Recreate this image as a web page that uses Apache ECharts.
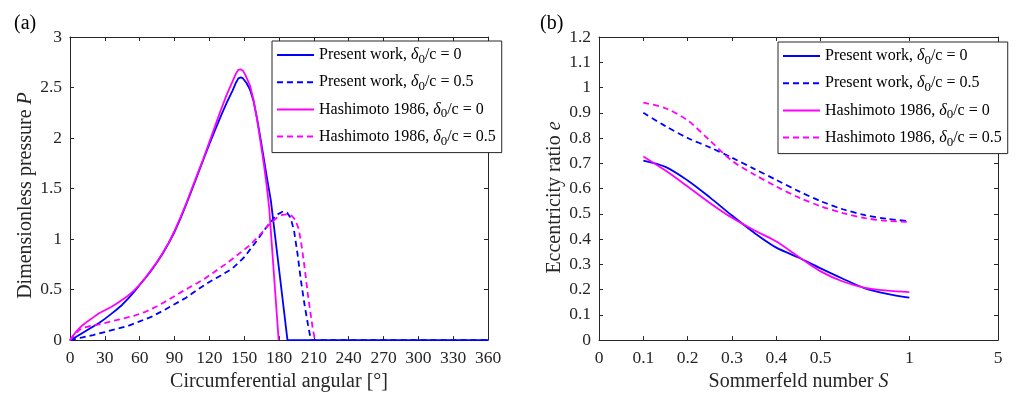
<!DOCTYPE html>
<html><head><meta charset="utf-8">
<script src="https://cdn.jsdelivr.net/npm/echarts@6/dist/echarts.min.js"></script>
<style>html,body{margin:0;padding:0;background:#fff}#c{width:1019px;height:397px}</style>
</head><body><div id="c"></div>
<script>
// ---------- (a) pressure vs circumferential angle ----------
const presentP0 = [[0,0],[5,0.03],[10,0.065],[15,0.1],[20,0.135],[25,0.17],[30,0.21],[35,0.255],[40,0.3],[45,0.35],[50,0.41],[55,0.475],[60,0.545],[65,0.615],[70,0.69],[75,0.77],[80,0.86],[85,0.96],[90,1.07],[95,1.2],[100,1.34],[105,1.49],[110,1.64],[115,1.79],[120,1.94],[125,2.08],[130,2.22],[135,2.35],[140,2.47],[143,2.55],[145,2.59],[147,2.6],[149,2.59],[152,2.545],[155,2.48],[158,2.37],[161,2.2],[164,2.0],[167,1.79],[170,1.58],[173,1.38],[187.3,0],[360,0]];
const presentP05 = [[0,0],[10,0.025],[20,0.05],[30,0.08],[40,0.11],[50,0.14],[60,0.185],[70,0.23],[80,0.29],[90,0.355],[100,0.42],[110,0.5],[120,0.575],[130,0.64],[140,0.71],[150,0.82],[160,0.97],[170,1.13],[178,1.24],[183,1.27],[187,1.26],[190,1.21],[193,1.08],[196,0.85],[199,0.58],[202,0.35],[205,0.15],[207.5,0],[360,0]];
const hashiP0 = [[0,0],[5,0.08],[10,0.14],[15,0.185],[20,0.225],[25,0.265],[30,0.295],[35,0.325],[40,0.36],[45,0.4],[50,0.44],[55,0.49],[60,0.55],[65,0.62],[70,0.695],[75,0.775],[80,0.865],[85,0.965],[90,1.08],[95,1.21],[100,1.35],[105,1.5],[110,1.65],[115,1.8],[120,1.96],[125,2.12],[130,2.28],[135,2.43],[140,2.56],[143,2.64],[145,2.675],[147,2.68],[149,2.665],[151,2.625],[155,2.52],[158,2.38],[161,2.19],[164,1.97],[167,1.74],[169.5,1.52],[171.6,1.3],[179.7,0]];
const hashiP05 = [[0,0],[4,0.06],[8,0.1],[12,0.125],[18,0.14],[25,0.155],[35,0.185],[45,0.21],[55,0.24],[65,0.28],[75,0.335],[85,0.4],[95,0.47],[105,0.535],[115,0.6],[125,0.68],[135,0.76],[145,0.85],[155,0.94],[165,1.06],[172,1.15],[178,1.21],[183,1.24],[187,1.245],[191,1.23],[194,1.19],[197,1.1],[199,0.97],[201,0.81],[203,0.63],[205,0.44],[207,0.28],[209,0.12],[211,0]];

// ---------- (b) eccentricity ratio vs Sommerfeld number ----------
const sommerfeldS = [0.1,0.15,0.2,0.25,0.3,0.35,0.4,0.45,0.5,0.625,0.75,0.875,1];
const presentE0  = [0.711,0.686,0.632,0.565,0.493,0.425,0.366,0.327,0.284,0.243,0.205,0.183,0.168];
const presentE05 = [0.90,0.847,0.80,0.763,0.722,0.678,0.634,0.59,0.55,0.518,0.495,0.48,0.471];
const hashiE0    = [0.727,0.671,0.608,0.543,0.484,0.435,0.39,0.33,0.272,0.232,0.207,0.196,0.19];
const hashiE05   = [0.94,0.918,0.87,0.79,0.71,0.656,0.608,0.565,0.53,0.503,0.483,0.472,0.468];
const sTickValues = [0,0.1,0.2,0.3,0.4,0.5,1,5];
const sTickLabels = ['0','0.1','0.2','0.3','0.4','0.5','1','5'];

const legendNames = ['Present work, δ0/c = 0','Present work, δ0/c = 0.5','Hashimoto 1986, δ0/c = 0','Hashimoto 1986, δ0/c = 0.5'];

// piecewise axis scale of panel (b): S -> axis coordinate
function sPos(s){ if(s<=0.5) return s*10; if(s<=1) return 5+(s-0.5)*4; return 7+(s-1)/2; }

const FONT = '"Liberation Serif", "Times New Roman", serif';
const AX = '#262626';
const BLUE = '#0000ff', MAG = '#ff00ff';

function lineSeries(name, data, color, dashed, xi, yi, smooth){
  return {type:'line', name, data, xAxisIndex:xi, yAxisIndex:yi, symbol:'none', showSymbol:false, smooth: smooth||false,
    lineStyle:{color, width:1.8, type: dashed ? [6,4] : 'solid'}, itemStyle:{color}, animation:false};
}

function legendFmt(name){
  const m = name.match(/^(.*), δ0\/c = (.*)$/);
  return '{t|' + m[1] + ', }{d|δ}{s|0}{t|/c = ' + m[2] + '}';
}
const legendRich = {
  t:{fontFamily:FONT, fontSize:16, color:'#000', lineHeight:22, verticalAlign:'middle'},
  d:{fontFamily:FONT, fontSize:16, fontStyle:'italic', color:'#000', lineHeight:22, verticalAlign:'middle'},
  s:{fontFamily:FONT, fontSize:13, color:'#000', lineHeight:10, verticalAlign:'bottom'}
};
function legendOpt(left, top){
  return {orient:'vertical', left, top, data:legendNames, formatter:legendFmt,
    itemWidth:37, itemHeight:10, itemGap:8.2, padding:[6,6,5,4],
    itemStyle:{opacity:0, borderWidth:0},
    borderColor:AX, borderWidth:1, backgroundColor:'#fff',
    textStyle:{rich:legendRich}, selectedMode:false};
}

const tickLabel = {color:AX, fontFamily:FONT, fontSize:17.5};
const axLine = {show:true, onZero:false, lineStyle:{color:AX, width:1}};
const tickIn = {show:true, inside:true, length:4, lineStyle:{color:AX, width:1}};
const nameRich = {n:{fontFamily:FONT, fontSize:20, color:AX}, i:{fontFamily:FONT, fontSize:20, fontStyle:'italic', color:AX}};

const chart = echarts.init(document.getElementById('c'), null, {renderer:'canvas'});
chart.setOption({
  backgroundColor:'#fff',
  animation:false,
  title:[
    {text:'(a)', left:9, top:9, textStyle:{fontFamily:FONT, fontSize:20, fontWeight:'normal', color:'#000'}},
    {text:'(b)', left:535, top:9, textStyle:{fontFamily:FONT, fontSize:20, fontWeight:'normal', color:'#000'}}
  ],
  grid:[
    {left:70, top:37, width:418, height:306},
    {left:599, top:37, width:399, height:304}
  ],
  legend:[legendOpt(272,41), legendOpt(778,42)],
  xAxis:[
    {gridIndex:0, type:'value', position:'bottom', min:0, max:360, interval:30,
     axisLine:axLine, axisTick:tickIn, splitLine:{show:false},
     axisLabel:Object.assign({margin:9}, tickLabel),
     name:'Circumferential angular [°]', nameLocation:'middle', nameGap:31,
     nameTextStyle:{fontFamily:FONT, fontSize:20, color:AX}},
    {gridIndex:0, type:'value', position:'top', min:0, max:360, interval:30,
     axisLine:axLine, axisTick:tickIn, splitLine:{show:false}, axisLabel:{show:false}},
    {gridIndex:1, type:'value', position:'bottom', min:0, max:9,
     axisLine:axLine, splitLine:{show:false},
     axisTick:Object.assign({customValues: sTickValues.map(sPos)}, tickIn),
     axisLabel:Object.assign({margin:9, customValues: sTickValues.map(sPos),
       formatter:(v)=>{ const i = sTickValues.map(sPos).findIndex(p=>Math.abs(p-v)<1e-6); return i>=0 ? sTickLabels[i] : ''; }}, tickLabel),
     name:'{n|Sommerfeld number }{i|S}', nameLocation:'middle', nameGap:31,
     nameTextStyle:{rich:nameRich}},
    {gridIndex:1, type:'value', position:'top', min:0, max:9,
     axisLine:axLine, splitLine:{show:false},
     axisTick:Object.assign({customValues: sTickValues.map(sPos)}, tickIn),
     axisLabel:{show:false, customValues: sTickValues.map(sPos)}}
  ],
  yAxis:[
    {gridIndex:0, type:'value', position:'left', min:0, max:3, interval:0.5,
     axisLine:axLine, axisTick:tickIn, splitLine:{show:false},
     axisLabel:Object.assign({margin:8}, tickLabel),
     name:'{n|Dimensionless pressure }{i|P}', nameLocation:'middle', nameGap:32, nameRotate:90,
     nameTextStyle:{rich:nameRich, padding:[0,14,0,0]}},
    {gridIndex:0, type:'value', position:'right', min:0, max:3, interval:0.5,
     axisLine:axLine, axisTick:tickIn, splitLine:{show:false}, axisLabel:{show:false}},
    {gridIndex:1, type:'value', position:'left', min:0, max:1.2, interval:0.1,
     axisLine:axLine, axisTick:tickIn, splitLine:{show:false},
     axisLabel:Object.assign({margin:8}, tickLabel),
     name:'{n|Eccentricity ratio }{i|e}', nameLocation:'middle', nameGap:34, nameRotate:90,
     nameTextStyle:{rich:nameRich, padding:[0,18,0,0]}},
    {gridIndex:1, type:'value', position:'right', min:0, max:1.2, interval:0.1,
     axisLine:axLine, axisTick:tickIn, splitLine:{show:false}, axisLabel:{show:false}}
  ],
  series:[
    lineSeries(legendNames[0], presentP0, BLUE, false, 0, 0),
    lineSeries(legendNames[1], presentP05, BLUE, true, 0, 0),
    lineSeries(legendNames[2], hashiP0, MAG, false, 0, 0),
    lineSeries(legendNames[3], hashiP05, MAG, true, 0, 0),
    lineSeries(legendNames[0], sommerfeldS.map((s,i)=>[sPos(s), presentE0[i]]), BLUE, false, 2, 2, 0.3),
    lineSeries(legendNames[1], sommerfeldS.map((s,i)=>[sPos(s), presentE05[i]]), BLUE, true, 2, 2, 0.3),
    lineSeries(legendNames[2], sommerfeldS.map((s,i)=>[sPos(s), hashiE0[i]]), MAG, false, 2, 2, 0.3),
    lineSeries(legendNames[3], sommerfeldS.map((s,i)=>[sPos(s), hashiE05[i]]), MAG, true, 2, 2, 0.3)
  ]
});
</script></body></html>
